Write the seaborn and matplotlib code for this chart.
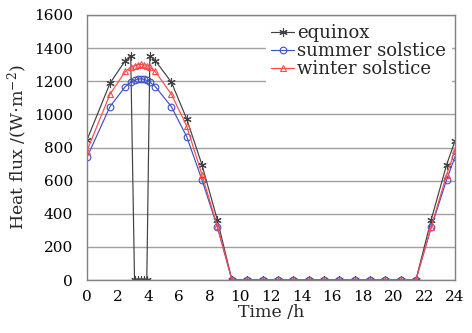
import matplotlib
matplotlib.use("Agg")
import matplotlib.pyplot as plt
import seaborn as sns
import numpy as np
import pandas as pd
from matplotlib.ticker import MultipleLocator

# ---- data ----
time_h = [0, 1.5, 2.5, 2.85, 3.1, 3.3, 3.5, 3.7, 3.9, 4.1, 4.45, 5.5, 6.5, 7.5, 8.5,
          9.45, 10.45, 11.45, 12.45, 13.45, 14.45, 15.45, 16.45, 17.45, 18.45,
          19.45, 20.45, 21.45, 22.45, 23.45, 24]
equinox = [846, 1188, 1325, 1355, 0, 0, 0, 0, 0, 1355, 1325, 1195, 973, 695, 363,
           0, 0, 0, 0, 0, 0, 0, 0, 0, 0, 0, 0, 0, 365, 695, 840]
summer = [741, 1047, 1168, 1194, 1205, 1212, 1215, 1212, 1205, 1194, 1168, 1047, 866, 604, 320,
          0, 0, 0, 0, 0, 0, 0, 0, 0, 0, 0, 0, 0, 318, 604, 745]
winter = [780, 1122, 1259, 1285, 1295, 1300, 1302, 1300, 1295, 1285, 1259, 1122, 930, 634, 326,
          0, 0, 0, 0, 0, 0, 0, 0, 0, 0, 0, 0, 0, 322, 634, 785]
series_names = ["equinox", "summer solstice", "winter solstice"]
x_ticks = list(range(0, 25, 2))
y_ticks = list(range(0, 1601, 200))

colors = {"equinox": "#404040", "summer solstice": "#3c50c8", "winter solstice": "#ff4a4a"}
markers = {"equinox": (6, 2, 0), "summer solstice": "o", "winter solstice": "^"}
msizes = {"equinox": 6, "summer solstice": 4.8, "winter solstice": 5}

sns.set_theme(style="white")
plt.rcParams["font.family"] = ["DejaVu Serif"]
plt.rcParams["mathtext.fontset"] = "dejavuserif"

fig = plt.figure(figsize=(4.72, 3.33), dpi=100)
ax = fig.add_axes([87/472, 1 - 280/333, (455-87)/472, (280-15)/333])

for name, vals in zip(series_names, [equinox, summer, winter]):
    df = pd.DataFrame({"time": time_h, "flux": vals})
    c = colors[name]
    sns.lineplot(data=df, x="time", y="flux", ax=ax, color=c, estimator=None,
                 marker=markers[name], markersize=msizes[name],
                 markerfacecolor="none", markeredgecolor=c, markeredgewidth=0.8,
                 linewidth=0.85, label=name)

ax.set_xlim(0, 24)
ax.set_ylim(0, 1600)
ax.set_xticks(x_ticks)
ax.set_yticks(y_ticks)
ax.xaxis.set_minor_locator(MultipleLocator(1))
ax.yaxis.set_minor_locator(MultipleLocator(100))
ax.tick_params(axis="both", which="both", direction="in", labelsize=11,
               colors="#666666", labelcolor="black")
ax.tick_params(axis="both", which="major", length=4, width=0.8)
ax.tick_params(axis="both", which="minor", length=2.5, width=0.8)
ax.tick_params(axis="x", which="major", pad=7)
ax.tick_params(axis="y", which="major", pad=10)
ax.grid(axis="y", color="#a0a0a0", linewidth=1.0)
ax.set_axisbelow(True)
for sp in ax.spines.values():
    sp.set_color("#808080")
    sp.set_linewidth(1.0)

ax.set_xlabel("Time /h", fontsize=12.5, labelpad=0)
ax.set_ylabel(r"Heat flux /(W$\cdot$m$^{-2}$)", fontsize=12.5, labelpad=3)

leg = ax.legend(loc="upper right", bbox_to_anchor=(1.0, 1.0), frameon=True,
                fontsize=13, handlelength=1.3, handletextpad=0.15,
                borderaxespad=0.2, labelspacing=0.0, borderpad=0.3)
leg.get_frame().set_facecolor("white")
leg.get_frame().set_edgecolor("white")
leg.get_frame().set_alpha(1.0)

fig.savefig("out.png", dpi=100)
